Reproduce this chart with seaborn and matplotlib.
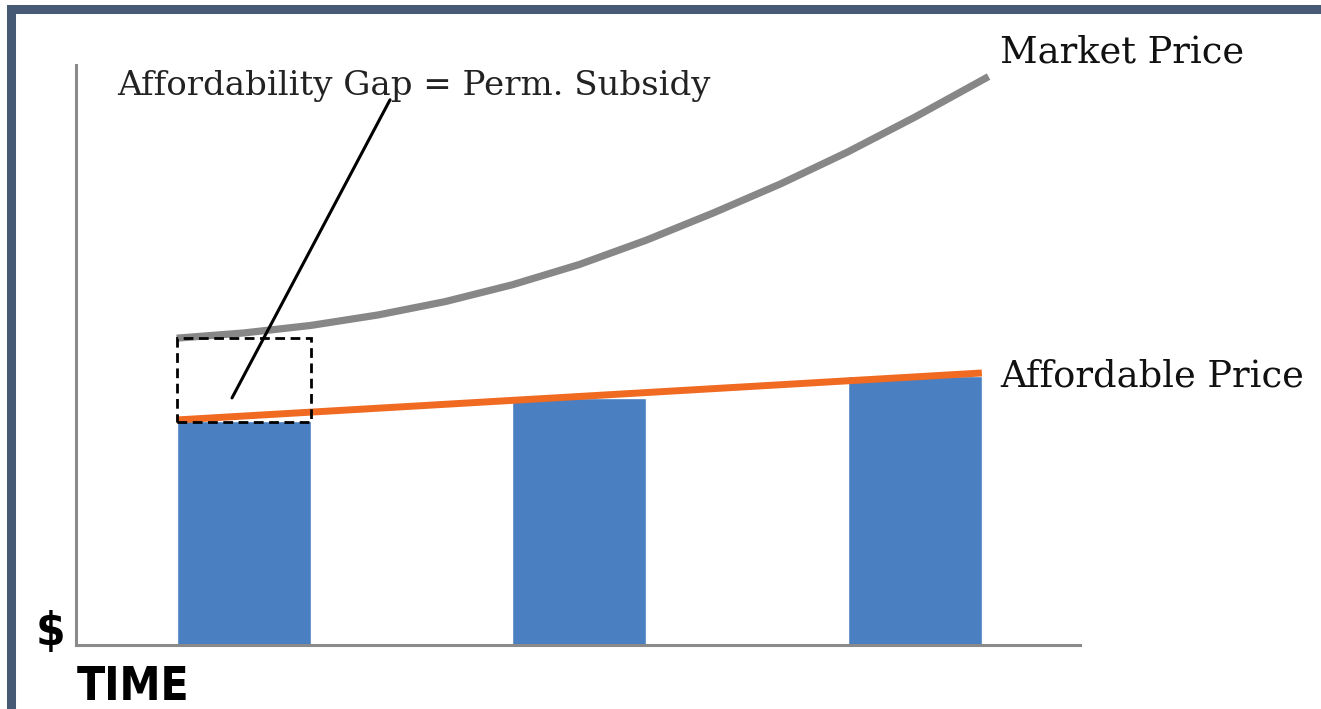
import matplotlib
matplotlib.use("Agg")
import matplotlib.pyplot as plt
from matplotlib.patches import Rectangle
import seaborn as sns

# ---- data ----
bar_time = [1, 2, 3]
bar_price = [38.6, 42.6, 46.3]

afford_time = [0.8, 3.2]
afford_price = [38.8, 46.9]

market_time = [0.8, 1.0, 1.2, 1.4, 1.6, 1.8, 2.0, 2.2, 2.4, 2.6, 2.8, 3.0, 3.22]
market_price = [52.9, 53.8, 55.1, 56.9, 59.2, 62.1, 65.6, 69.8, 74.5, 79.5,
                85.0, 91.0, 98.0]

gap_box = [0.8, 38.4, 1.2, 52.9]  # x0, y0, x1, y1

sns.set_theme(style="white")
plt.rcParams["font.family"] = ["DejaVu Serif", "DejaVu Sans"]

W, H = 1321, 709
fig = plt.figure(figsize=(W / 100, H / 100), dpi=100)
ax = fig.add_axes([76 / W, 1 - 645 / H, (1080 - 76) / W, (645 - 65) / H])

sns.barplot(x=bar_time, y=bar_price, native_scale=True, width=0.4,
            color="#4a7fc1", saturation=1, ax=ax, zorder=2)
sns.lineplot(x=market_time, y=market_price, color="#878787", lw=5.2, ax=ax,
             zorder=3, solid_capstyle="butt", solid_joinstyle="round")
sns.lineplot(x=afford_time, y=afford_price, color="#f06a22", lw=5.0, ax=ax,
             zorder=4, solid_capstyle="butt")

x0, y0, x1, y1 = gap_box
ax.add_patch(Rectangle((x0, y0), x1 - x0, y1 - y0, fill=False, ec="black",
                       lw=2.0, ls=(0, (3.5, 2)), zorder=5))
ax.plot([1.436, 0.965], [94.0, 42.6], color="black", lw=2.2, zorder=6,
        clip_on=False)

ax.set_xlim(0.5, 0.5 + (1080 - 76) / 335.5)
ax.set_ylim(0, 100)
ax.set_xticks([])
ax.set_yticks([])
ax.set_xlabel("")
ax.set_ylabel("")
for s in ["top", "right"]:
    ax.spines[s].set_visible(False)
for s in ["left", "bottom"]:
    ax.spines[s].set_color("#8a8a8a")
    ax.spines[s].set_linewidth(2.2)

ax.text(0.622, 94.8, "Affordability Gap = Perm. Subsidy", fontsize=24.5,
        va="baseline", ha="left", color="#222222", clip_on=False)
ax.text(3.254, 100.5, "Market Price", fontsize=26.5, va="baseline", ha="left",
        color="#111111", clip_on=False)
ax.text(3.254, 44.5, "Affordable Price", fontsize=26.5, va="baseline",
        ha="left", color="#111111", clip_on=False)

fig.text(50 / W, 1 - 645 / H, "$", fontsize=34, fontweight="bold",
         family=["DejaVu Sans"], fontstretch="condensed",
         ha="center", va="baseline", color="black")
fig.text(77 / W, 1 - 700 / H, "TIME", fontsize=33, fontweight="bold",
         family=["DejaVu Sans"], fontstretch="condensed",
         ha="left", va="baseline", color="black")

# outer frame
fig.patches.append(Rectangle((11 / W, -0.2), 1.3, (1 - 9 / H) + 0.2,
                             transform=fig.transFigure, fill=False,
                             ec="#475a75", lw=6.5, zorder=10))

fig.savefig("out.png", dpi=100, facecolor="white")
